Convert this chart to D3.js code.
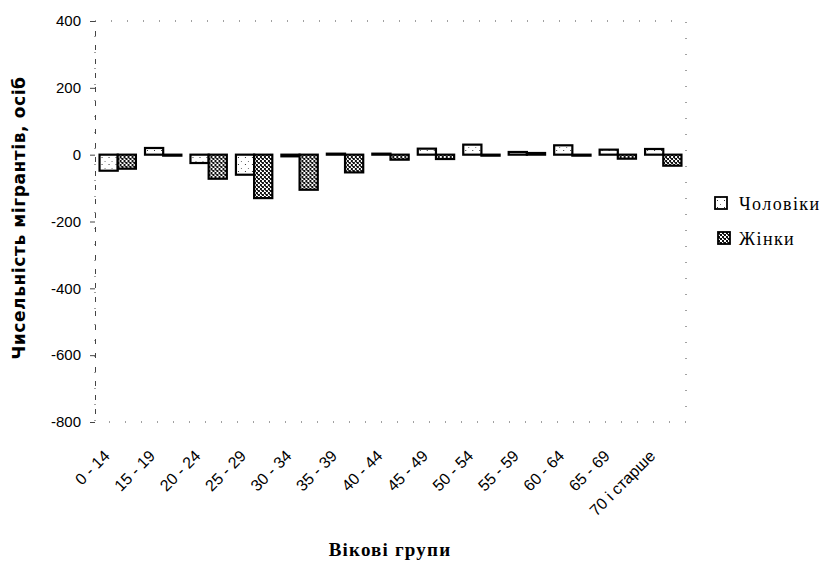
<!DOCTYPE html>
<html>
<head>
<meta charset="utf-8">
<script src="https://cdn.jsdelivr.net/npm/d3@7"></script>
<style>
  body { margin: 0; background: #fff; }
  .tick text { font-family: Arial, "Liberation Sans", sans-serif; font-size: 15px; fill: #000; }
</style>
</head>
<body>
<div id="chart"></div>
<script>
// Data
var groups = ['0 - 14', '15 - 19', '20 - 24', '25 - 29', '30 - 34', '35 - 39', '40 - 44',
              '45 - 49', '50 - 54', '55 - 59', '60 - 64', '65 - 69', '70 і старше'];
var men   = [-48, 20, -25, -60, -5, 3, 3, 18, 30, 8, 28, 15, 17];
var women = [-42, -3, -72, -130, -105, -53, -15, -13, -3, 5, -3, -12, -33];
var seriesNames = ['Чоловіки', 'Жінки'];
var yTicks = [400, 200, 0, -200, -400, -600, -800];

var width = 824;
var height = 565;
var plotLeft = 95, plotRight = 686, plotTop = 21, plotBottom = 422;

var svg = d3.select('#chart').append('svg')
  .attr('width', width)
  .attr('height', height);

// fill patterns, like the scanned hatching
var defs = svg.append('defs');
var pm = defs.append('pattern').attr('id', 'pMen')
  .attr('patternUnits', 'userSpaceOnUse').attr('width', 7).attr('height', 7);
pm.append('rect').attr('width', 7).attr('height', 7).attr('fill', '#fff');
pm.append('rect').attr('x', 2).attr('y', 3).attr('width', 1).attr('height', 1).attr('fill', '#333');
pm.append('rect').attr('x', 5).attr('y', 0).attr('width', 1).attr('height', 1).attr('fill', '#777');
var pw = defs.append('pattern').attr('id', 'pWomen')
  .attr('patternUnits', 'userSpaceOnUse').attr('width', 4).attr('height', 4);
pw.append('rect').attr('width', 4).attr('height', 4).attr('fill', '#fff');
pw.append('rect').attr('x', 0).attr('y', 0).attr('width', 2).attr('height', 2).attr('fill', '#111');
pw.append('rect').attr('x', 2).attr('y', 2).attr('width', 2).attr('height', 2).attr('fill', '#111');
pw.append('rect').attr('x', 1).attr('y', 2).attr('width', 1).attr('height', 1).attr('fill', '#444');
var fills = ['url(#pMen)', 'url(#pWomen)'];

var x0 = d3.scaleBand().domain(groups).range([plotLeft, plotRight]).paddingInner(0.2).paddingOuter(0.1);
var x1 = d3.scaleBand().domain([0, 1]).range([0, x0.bandwidth()]);
var y = d3.scaleLinear().domain([-800, 400]).range([plotBottom, plotTop]);

// faded plot frame (scan leaves only specks of it)
svg.append('rect')
  .attr('x', plotLeft).attr('y', plotTop)
  .attr('width', plotRight - plotLeft).attr('height', plotBottom - plotTop)
  .attr('fill', 'none')
  .attr('stroke', '#444')
  .attr('stroke-width', 1)
  .attr('stroke-dasharray', '1,15');

// y axis
var yAxis = svg.append('g')
  .attr('transform', 'translate(' + plotLeft + ',0)')
  .call(d3.axisLeft(y).tickValues(yTicks).tickSize(5).tickPadding(9)
    .tickFormat(function(d) { return String(d); }));
yAxis.select('.domain').attr('stroke', '#444').attr('stroke-dasharray', '5,9');
yAxis.selectAll('.tick line').attr('stroke', '#444');

// x axis
var xAxis = svg.append('g')
  .attr('transform', 'translate(0,' + plotBottom + ')')
  .call(d3.axisBottom(x0).tickSize(0));
xAxis.select('.domain').remove();
xAxis.selectAll('text')
  .attr('y', 0)
  .attr('text-anchor', 'end')
  .attr('dy', '0.35em')
  .style('font-size', '16px')
  .attr('transform', 'translate(-11,31) rotate(-45)');

// bars
var rows = groups.map(function(g, i) { return { g: g, v: [men[i], women[i]] }; });
var grp = svg.append('g').selectAll('g')
  .data(rows)
  .enter().append('g')
  .attr('transform', function(d) { return 'translate(' + x0(d.g) + ',0)'; });
grp.selectAll('rect')
  .data(function(d) { return d.v.map(function(v, k) { return { k: k, v: v }; }); })
  .enter().append('rect')
  .attr('x', function(d) { return x1(d.k); })
  .attr('y', function(d) { return y(Math.max(0, d.v)); })
  .attr('width', x1.bandwidth())
  .attr('height', function(d) { return Math.max(1, Math.abs(y(d.v) - y(0))); })
  .attr('fill', function(d) { return fills[d.k]; })
  .attr('stroke', '#000')
  .attr('stroke-width', 2.2);

// axis titles
svg.append('text')
  .attr('transform', 'translate(25,218) rotate(-90)')
  .attr('text-anchor', 'middle')
  .style('font-family', '"DejaVu Sans", Verdana, sans-serif')
  .style('font-weight', 'bold')
  .style('font-size', '17px')
  .style('letter-spacing', '0.6px')
  .text('Чисельність мігрантів, осіб');

svg.append('text')
  .attr('x', 390).attr('y', 556)
  .attr('text-anchor', 'middle')
  .style('font-family', '"Liberation Serif", "Times New Roman", serif')
  .style('font-weight', 'bold')
  .style('font-size', '19px')
  .style('letter-spacing', '1.2px')
  .text('Вікові групи');

// legend
var legend = svg.append('g').selectAll('g')
  .data(seriesNames)
  .enter().append('g')
  .attr('transform', function(d, i) { return 'translate(' + (715 + i * 3) + ',' + (197 + i * 35) + ')'; });
legend.append('rect')
  .attr('width', 12).attr('height', 12)
  .attr('fill', function(d, i) { return fills[i]; })
  .attr('stroke', '#000').attr('stroke-width', 1.8);
legend.append('text')
  .attr('x', function(d, i) { return 24 - i * 3; }).attr('y', 13)
  .style('font-family', '"Liberation Serif", "Times New Roman", serif')
  .style('font-size', '18px')
  .style('letter-spacing', '1.4px')
  .text(function(d) { return d; });
</script>
</body>
</html>
